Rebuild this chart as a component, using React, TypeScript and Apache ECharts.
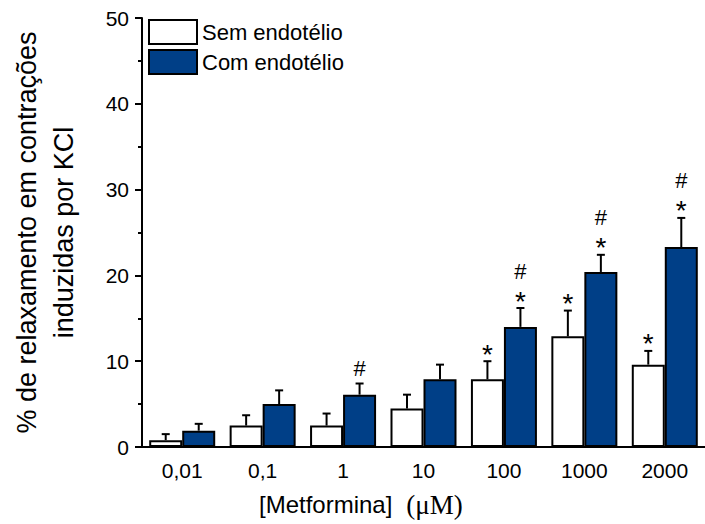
import React, { useEffect, useRef } from "react";
import * as echarts from "echarts";

const categories = ["0,01", "0,1", "1", "10", "100", "1000", "2000"];
const semMean = [0.8, 2.5, 2.5, 4.5, 7.9, 12.9, 9.6];
const semSem = [0.7, 1.2, 1.4, 1.6, 2.1, 3.0, 1.6];
const comMean = [1.9, 5.0, 6.1, 7.9, 14.0, 20.4, 23.3];
const comSem = [0.8, 1.6, 1.3, 1.7, 2.2, 2.0, 3.4];
const semStar = [0, 0, 0, 0, 1, 1, 1];
const semHash = [0, 0, 0, 0, 0, 0, 0];
const comStar = [0, 0, 0, 0, 1, 1, 1];
const comHash = [0, 0, 1, 0, 1, 1, 1];
const yTicks = [0, 10, 20, 30, 40, 50];

const FONT = "Liberation Sans, Arial, sans-serif";
const SERIF = "Liberation Serif, Times New Roman, serif";
const BLUE = "#003f87";
const BAR_W = 33;

export default function App() {
  const ref = useRef<HTMLDivElement>(null);
  useEffect(() => {
    document.body.style.margin = "0";
    const chart = echarts.init(ref.current!, null, { renderer: "svg" });

    const makeErr = (means: number[], sems: number[], stars: number[], hashes: number[], side: number) => ({
      type: "custom",
      z: 5,
      silent: true,
      data: means.map((m, i) => [i, m, m + sems[i], stars[i], hashes[i]]),
      renderItem: (params: any, api: any) => {
        const i = api.value(0);
        const base = api.coord([i, api.value(1)]);
        const top = api.coord([i, api.value(2)]);
        const x = base[0] + side * (BAR_W / 2);
        const children: any[] = [
          { type: "line", shape: { x1: x, y1: base[1], x2: x, y2: top[1] }, style: { stroke: "#000", lineWidth: 2 } },
          { type: "line", shape: { x1: x - 4, y1: top[1], x2: x + 4, y2: top[1] }, style: { stroke: "#000", lineWidth: 2 } },
        ];
        const star = api.value(3);
        const hash = api.value(4);
        if (star) {
          children.push({
            type: "text",
            style: { text: "*", x, y: top[1] - 7, fontSize: 28, fontFamily: FONT, fill: "#000", align: "center", verticalAlign: "middle" },
          });
        }
        if (hash) {
          children.push({
            type: "text",
            style: { text: "#", x, y: top[1] - (star ? 37 : 15), fontSize: 22, fontFamily: FONT, fill: "#000", align: "center", verticalAlign: "middle" },
          });
        }
        return { type: "group", children };
      },
    });

    chart.setOption({
      animation: false,
      grid: { left: 132, top: 18, width: 578, height: 429, containLabel: false },
      legend: {
        orient: "vertical",
        left: 148,
        top: 19,
        padding: 0,
        itemWidth: 48,
        itemHeight: 24,
        itemGap: 4,
        icon: "rect",
        textStyle: { fontSize: 22, fontFamily: FONT, color: "#000" },
        data: [
          { name: "Sem endotélio", itemStyle: { color: "#fff", borderColor: "#000", borderWidth: 2 } },
          { name: "Com endotélio", itemStyle: { color: BLUE, borderColor: "#000", borderWidth: 2 } },
        ],
      },
      graphic: [
        {
          type: "text",
          left: 259,
          top: 491,
          style: {
            text: "{a|[Metformina]}{b|(μM)}",
            rich: {
              a: { fontSize: 24, fontFamily: FONT, fill: "#000" },
              b: { fontSize: 27, fontFamily: SERIF, fill: "#000", padding: [0, 0, 0, 14] },
            },
          },
        },
      ],
      xAxis: {
        type: "category",
        data: categories,
        axisTick: { show: false },
        axisLine: { lineStyle: { color: "#000", width: 2 } },
        axisLabel: { fontSize: 21, fontFamily: FONT, color: "#000", margin: 13 },
      },
      yAxis: {
        type: "value",
        min: yTicks[0],
        max: yTicks[yTicks.length - 1],
        interval: 10,
        splitLine: { show: false },
        axisLine: { show: true, lineStyle: { color: "#000", width: 2 } },
        axisTick: { show: true, length: 7, lineStyle: { color: "#000", width: 2 } },
        minorTick: { show: true, splitNumber: 2, length: 4, lineStyle: { color: "#000", width: 2 } },
        axisLabel: { fontSize: 21, fontFamily: FONT, color: "#000", margin: 13 },
        name: "% de relaxamento em contrações\ninduzidas por KCl",
        nameLocation: "middle",
        nameGap: 60,
        nameTextStyle: { fontSize: 27, fontFamily: FONT, color: "#000", lineHeight: 37 },
      },
      series: [
        {
          name: "Sem endotélio",
          type: "bar",
          data: semMean,
          barWidth: BAR_W,
          barGap: "0%",
          itemStyle: { color: "#fff", borderColor: "#000", borderWidth: 2 },
        },
        {
          name: "Com endotélio",
          type: "bar",
          data: comMean,
          barWidth: BAR_W,
          barGap: "0%",
          itemStyle: { color: BLUE, borderColor: "#000", borderWidth: 2 },
        },
        makeErr(semMean, semSem, semStar, semHash, -1),
        makeErr(comMean, comSem, comStar, comHash, 1),
      ],
    });
    return () => chart.dispose();
  }, []);
  return <div ref={ref} style={{ position: "absolute", left: 0, top: 0, width: 705, height: 524 }} />;
}
